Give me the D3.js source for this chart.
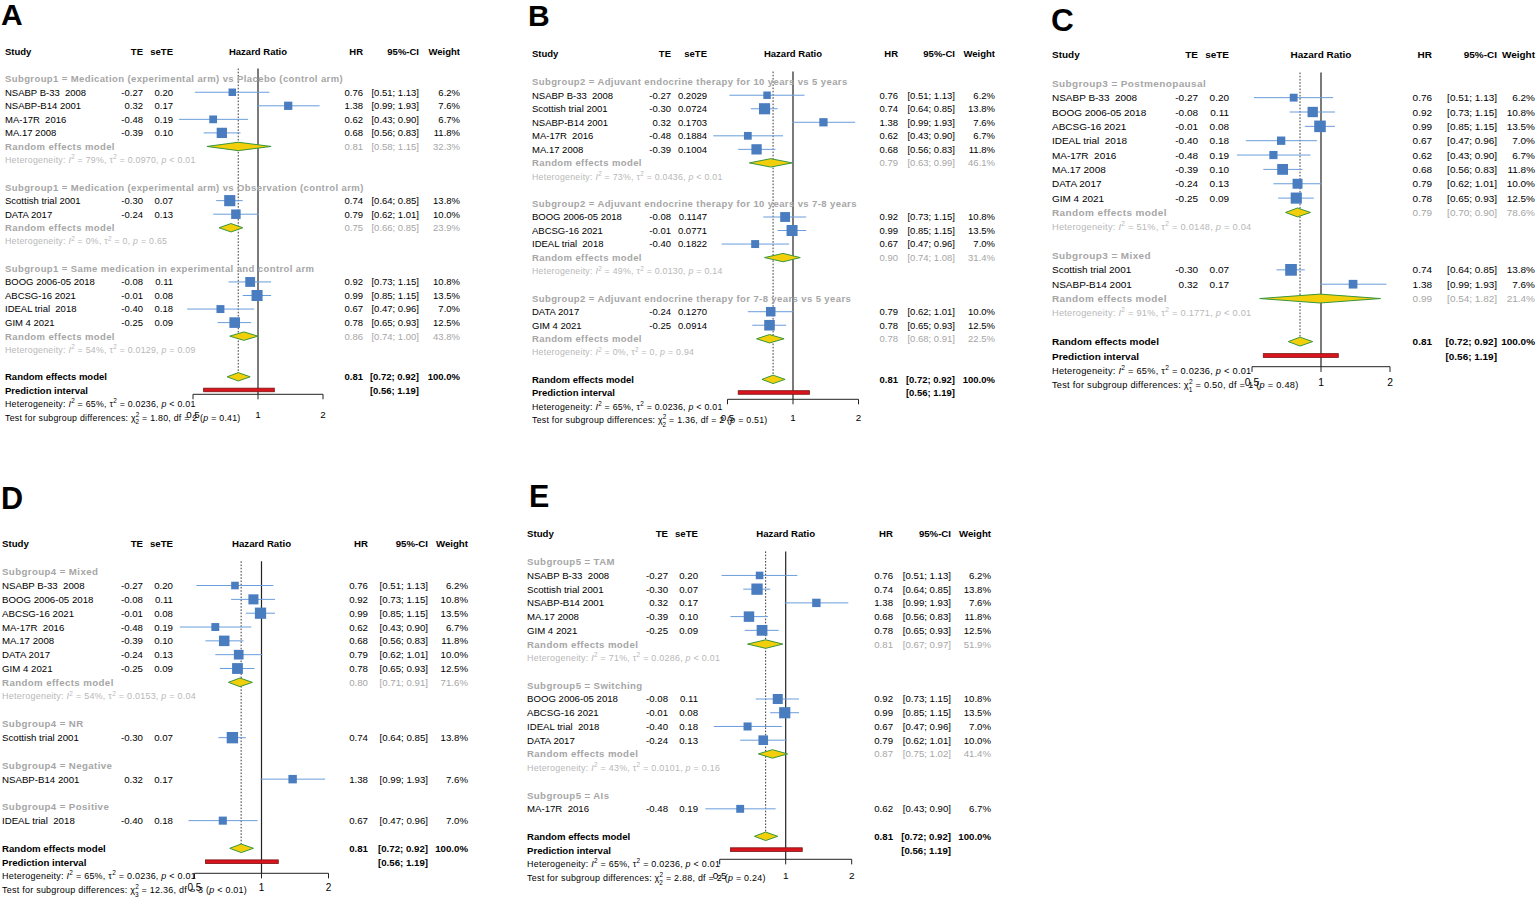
<!doctype html>
<html>
<head>
  <meta charset="utf-8">
  <title>Forest plots by subgroup</title>
  <script src="https://d3js.org/d3.v7.min.js"></script>
  <style>
    body { margin: 0; background: #fff; }
    text { font-family: "Liberation Sans", Arial, Helvetica, sans-serif; white-space: pre; }
  </style>
</head>
<body>
<div id="chart"></div>
<script>
// ---- study level data (same ten trials in every panel) ----
var studyNames = ["NSABP B-33  2008", "NSABP-B14 2001", "MA-17R  2016", "MA.17 2008", "Scottish trial 2001",
                  "DATA 2017", "BOOG 2006-05 2018", "ABCSG-16 2021", "IDEAL trial  2018", "GIM 4 2021"];
var studyTE = [-0.27, 0.32, -0.48, -0.39, -0.30, -0.24, -0.08, -0.01, -0.40, -0.25];
var studySE = ["0.20", "0.17", "0.19", "0.10", "0.07", "0.13", "0.11", "0.08", "0.18", "0.09"];
var studySE4 = ["0.2029", "0.1703", "0.1884", "0.1004", "0.0724", "0.1270", "0.1147", "0.0771", "0.1822", "0.0914"];
var studyHR = [0.76, 1.38, 0.62, 0.68, 0.74, 0.79, 0.92, 0.99, 0.67, 0.78];
var studyLo = [0.51, 0.99, 0.43, 0.56, 0.64, 0.62, 0.73, 0.85, 0.47, 0.65];
var studyHi = [1.13, 1.93, 0.90, 0.83, 0.85, 1.01, 1.15, 1.15, 0.96, 0.93];
var studyW  = [6.2, 7.6, 6.7, 11.8, 13.8, 10.0, 10.8, 13.5, 7.0, 12.5];

// ---- subgroup data, one entry per panel ----
var panelSE = [studySE, studySE4, studySE, studySE, studySE];

var subgroupNames = [
  ["Subgroup1 = Medication (experimental arm) vs Placebo (control arm)",
   "Subgroup1 = Medication (experimental arm) vs Observation (control arm)",
   "Subgroup1 = Same medication in experimental and control arm"],
  ["Subgroup2 = Adjuvant endocrine therapy for 10 years vs 5 years",
   "Subgroup2 = Adjuvant endocrine therapy for 10 years vs 7-8 years",
   "Subgroup2 = Adjuvant endocrine therapy for 7-8 years vs 5 years"],
  ["Subgroup3 = Postmenopausal", "Subgroup3 = Mixed"],
  ["Subgroup4 = Mixed", "Subgroup4 = NR", "Subgroup4 = Negative", "Subgroup4 = Positive"],
  ["Subgroup5 = TAM", "Subgroup5 = Switching", "Subgroup5 = AIs"]
];
var subgroupStudies = [
  [[0, 1, 2, 3], [4, 5], [6, 7, 8, 9]],
  [[0, 4, 1, 2, 3], [6, 7, 8], [5, 9]],
  [[0, 6, 7, 8, 2, 3, 5, 9], [4, 1]],
  [[0, 6, 7, 2, 3, 5, 9], [4], [1], [8]],
  [[0, 4, 1, 3, 9], [6, 7, 8, 5], [2]]
];
var subgroupHR = [[0.81, 0.75, 0.86], [0.79, 0.90, 0.78], [0.79, 0.99], [0.80, null, null, null], [0.81, 0.87, null]];
var subgroupLo = [[0.58, 0.66, 0.74], [0.63, 0.74, 0.68], [0.70, 0.54], [0.71, null, null, null], [0.67, 0.75, null]];
var subgroupHi = [[1.15, 0.85, 1.00], [0.99, 1.08, 0.91], [0.90, 1.82], [0.91, null, null, null], [0.97, 1.02, null]];
var subgroupW  = [[32.3, 23.9, 43.8], [46.1, 31.4, 22.5], [78.6, 21.4], [71.6, null, null, null], [51.9, 41.4, null]];
var subgroupI2   = [["79%", "0%", "54%"], ["73%", "49%", "0%"], ["51%", "91%"], ["54%"], ["71%", "43%"]];
var subgroupTau2 = [["0.0970", "0", "0.0129"], ["0.0436", "0.0130", "0"], ["0.0148", "0.1771"], ["0.0153"], ["0.0286", "0.0101"]];
var subgroupP    = [["< 0.01", "= 0.65", "= 0.09"], ["< 0.01", "= 0.14", "= 0.94"], ["= 0.04", "< 0.01"], ["= 0.04"], ["< 0.01", "= 0.16"]];

var testChi = ["1.80", "1.36", "0.50", "12.36", "2.88"];
var testDf  = ["2", "2", "1", "3", "2"];
var testP   = ["= 0.41", "= 0.51", "= 0.48", "< 0.01", "= 0.24"];

// overall random effects model (identical in all panels)
var overallHR = 0.81, overallLo = 0.72, overallHi = 0.92, predLo = 0.56, predHi = 1.19;
var overallI2 = "65%", overallTau2 = "0.0236", overallP = "< 0.01";
var axisTicks = [0.5, 1, 2];
var panelLetters = ["A", "B", "C", "D", "E"];

// ---- layout of each panel (pixels) ----
var layout = [
  {lx: 1,    ly: 25,  sx: 5,    te: 143,  se: 173,  one: 258,   px2: 65,   hr: 363,  ci: 419,  w: 460,  head: 52,    row0: 78.7,  dy: 13.55, axisY: 394.3, fs: 1.0},
  {lx: 528,  ly: 26,  sx: 532,  te: 671,  se: 707,  one: 793,   px2: 65.5, hr: 898,  ci: 955,  w: 995,  head: 54,    row0: 81.7,  dy: 13.53, axisY: 399.3, fs: 1.0},
  {lx: 1051, ly: 31,  sx: 1052, te: 1198, se: 1229, one: 1321,  px2: 69,   hr: 1432, ci: 1497, w: 1535, head: 54.3,  row0: 83.3,  dy: 14.35, axisY: 366.7, fs: 1.05},
  {lx: 1,    ly: 509, sx: 2,    te: 143,  se: 173,  one: 261.5, px2: 67,   hr: 368,  ci: 428,  w: 468,  head: 544,   row0: 571.7, dy: 13.83, axisY: 873.3, fs: 1.02},
  {lx: 529,  ly: 507, sx: 527,  te: 668,  se: 698,  one: 785.7, px2: 66,   hr: 893,  ci: 951,  w: 991,  head: 534,   row0: 561.7, dy: 13.73, axisY: 859.3, fs: 1.015}
];

var grey = "#a6a6a6", hetGrey = "#b8b8b8";
var sqFill = "#4a7dc0", ciCol = "#6a9ddb";
var diaFill = "#f3cf0b", diaLine = "#3a963a";

var svg = d3.select("#chart").append("svg")
    .attr("width", 1536)
    .attr("height", 898);

function put(g, x, y, str, size, opts) {
  opts = opts || {};
  return g.append("text")
      .attr("x", x)
      .attr("y", y + 0.36 * size)
      .attr("font-size", size)
      .attr("text-anchor", opts.anchor || "start")
      .attr("font-weight", opts.bold ? "bold" : "normal")
      .attr("letter-spacing", opts.ls || 0)
      .attr("fill", opts.fill || "#000")
      .text(str);
}

function hetText(g, x, y, size, color, i2, tau2, pv) {
  var t = g.append("text").attr("x", x).attr("y", y + 0.36 * size)
      .attr("font-size", size).attr("fill", color).attr("letter-spacing", 0.25);
  t.append("tspan").text("Heterogeneity: ");
  t.append("tspan").attr("font-style", "italic").text("I");
  t.append("tspan").attr("font-size", size * 0.72).attr("dy", -size * 0.42).text("2");
  t.append("tspan").attr("dy", size * 0.42).text(" = " + i2 + ", \u03c4");
  t.append("tspan").attr("font-size", size * 0.72).attr("dy", -size * 0.42).text("2");
  t.append("tspan").attr("dy", size * 0.42).text(" = " + tau2 + ", ");
  t.append("tspan").attr("font-style", "italic").text("p");
  t.append("tspan").text(" " + pv);
}

function testText(g, x, y, size, chi, df, pv) {
  var t = g.append("text").attr("x", x).attr("y", y + 0.36 * size)
      .attr("font-size", size).attr("fill", "#000").attr("letter-spacing", 0.25);
  t.append("tspan").text("Test for subgroup differences: \u03c7");
  t.append("tspan").attr("font-size", size * 0.72).attr("dy", -size * 0.42).text("2");
  t.append("tspan").attr("font-size", size * 0.72).attr("dx", -size * 0.45).attr("dy", size * 0.85).text(df);
  t.append("tspan").attr("dy", -size * 0.43).text(" = " + chi + ", df = " + df + " (");
  t.append("tspan").attr("font-style", "italic").text("p");
  t.append("tspan").text(" " + pv + ")");
}

function ciLabel(lo, hi) {
  return "[" + lo.toFixed(2) + "; " + hi.toFixed(2) + "]";
}

layout.forEach(function(L, p) {
  var g = svg.append("g");
  var f = 9.5 * L.fs, fh = 8.8 * L.fs;

  var x = d3.scaleLog().domain([0.5, 2]).range([L.one - L.px2, L.one + L.px2]);
  var y = d3.scaleLinear().domain([0, 1]).range([L.row0, L.row0 + L.dy]);

  // build the list of rows
  var rows = [];
  subgroupNames[p].forEach(function(name, k) {
    rows.push({type: "head", k: k});
    subgroupStudies[p][k].forEach(function(s) { rows.push({type: "study", s: s}); });
    if (subgroupHR[p][k] != null) {
      rows.push({type: "pooled", k: k});
      rows.push({type: "het", k: k});
    }
    rows.push({type: "blank"});
  });
  rows.push({type: "overall"});
  rows.push({type: "pred"});
  var overallRow = rows.length - 2;
  var testY = y(rows.length + 1);

  // panel letter
  g.append("text").attr("x", L.lx).attr("y", L.ly)
      .attr("font-size", 30 * L.fs).attr("font-weight", "bold").text(panelLetters[p]);

  // column headers
  put(g, L.sx, L.head, "Study", f, {bold: true});
  put(g, L.te, L.head, "TE", f, {bold: true, anchor: "end"});
  put(g, L.se, L.head, "seTE", f, {bold: true, anchor: "end"});
  put(g, L.one, L.head, "Hazard Ratio", f, {bold: true, anchor: "middle"});
  put(g, L.hr, L.head, "HR", f, {bold: true, anchor: "end"});
  put(g, L.ci, L.head, "95%-CI", f, {bold: true, anchor: "end"});
  put(g, L.w, L.head, "Weight", f, {bold: true, anchor: "end"});

  // reference lines
  var top = L.row0 - 0.75 * L.dy;
  g.append("line").attr("x1", x(1)).attr("x2", x(1)).attr("y1", top).attr("y2", L.axisY)
      .attr("stroke", "#222").attr("stroke-width", 1.2);
  g.append("line").attr("x1", x(overallHR)).attr("x2", x(overallHR)).attr("y1", top).attr("y2", y(overallRow))
      .attr("stroke", "#222").attr("stroke-width", 0.9).attr("stroke-dasharray", "1.6,1.6");

  // x axis
  var ax = g.append("g");
  ax.append("line").attr("x1", x(0.5)).attr("x2", x(2)).attr("y1", L.axisY).attr("y2", L.axisY)
      .attr("stroke", "#222").attr("stroke-width", 1);
  axisTicks.forEach(function(t) {
    ax.append("line").attr("x1", x(t)).attr("x2", x(t)).attr("y1", L.axisY).attr("y2", L.axisY + 5 * L.fs)
        .attr("stroke", "#222").attr("stroke-width", 1);
    put(ax, x(t), testY - 2.5, String(t), 9.8 * L.fs, {anchor: "middle"});
  });

  rows.forEach(function(r, i) {
    var yy = y(i);
    if (r.type === "head") {
      put(g, L.sx, yy, subgroupNames[p][r.k], f, {bold: true, fill: grey, ls: 0.4});
    } else if (r.type === "study") {
      var s = r.s;
      put(g, L.sx, yy, studyNames[s], f);
      put(g, L.te, yy, studyTE[s].toFixed(2), f, {anchor: "end"});
      put(g, L.se, yy, panelSE[p][s], f, {anchor: "end"});
      g.append("line").attr("x1", x(studyLo[s])).attr("x2", x(studyHi[s]))
          .attr("y1", yy).attr("y2", yy).attr("stroke", ciCol).attr("stroke-width", 1);
      var side = 3.0 * Math.sqrt(studyW[s]) * L.fs;
      g.append("rect").attr("x", x(studyHR[s]) - side / 2).attr("y", yy - side / 2)
          .attr("width", side).attr("height", side).attr("fill", sqFill);
      put(g, L.hr, yy, studyHR[s].toFixed(2), f, {anchor: "end"});
      put(g, L.ci, yy, ciLabel(studyLo[s], studyHi[s]), f, {anchor: "end"});
      put(g, L.w, yy, studyW[s].toFixed(1) + "%", f, {anchor: "end"});
    } else if (r.type === "pooled") {
      var k = r.k, h = 0.31 * L.dy;
      put(g, L.sx, yy, "Random effects model", f, {bold: true, fill: grey, ls: 0.4});
      g.append("path")
          .attr("d", "M" + x(subgroupLo[p][k]) + "," + yy + "L" + x(subgroupHR[p][k]) + "," + (yy - h) +
                     "L" + x(subgroupHi[p][k]) + "," + yy + "L" + x(subgroupHR[p][k]) + "," + (yy + h) + "Z")
          .attr("fill", diaFill).attr("stroke", diaLine).attr("stroke-width", 1);
      put(g, L.hr, yy, subgroupHR[p][k].toFixed(2), f, {anchor: "end", fill: grey});
      put(g, L.ci, yy, ciLabel(subgroupLo[p][k], subgroupHi[p][k]), f, {anchor: "end", fill: grey});
      put(g, L.w, yy, subgroupW[p][k].toFixed(1) + "%", f, {anchor: "end", fill: grey});
    } else if (r.type === "het") {
      hetText(g, L.sx, yy, fh, hetGrey, subgroupI2[p][r.k], subgroupTau2[p][r.k], subgroupP[p][r.k]);
    } else if (r.type === "overall") {
      var ho = 0.31 * L.dy;
      put(g, L.sx, yy, "Random effects model", f, {bold: true});
      g.append("path")
          .attr("d", "M" + x(overallLo) + "," + yy + "L" + x(overallHR) + "," + (yy - ho) +
                     "L" + x(overallHi) + "," + yy + "L" + x(overallHR) + "," + (yy + ho) + "Z")
          .attr("fill", diaFill).attr("stroke", diaLine).attr("stroke-width", 1);
      put(g, L.hr, yy, overallHR.toFixed(2), f, {anchor: "end", bold: true});
      put(g, L.ci, yy, ciLabel(overallLo, overallHi), f, {anchor: "end", bold: true});
      put(g, L.w, yy, "100.0%", f, {anchor: "end", bold: true});
    } else if (r.type === "pred") {
      put(g, L.sx, yy, "Prediction interval", f, {bold: true});
      g.append("rect").attr("x", x(predLo)).attr("y", yy - 2.2 * L.fs)
          .attr("width", x(predHi) - x(predLo)).attr("height", 3.6 * L.fs)
          .attr("fill", "#d9141c").attr("stroke", "#7a1414").attr("stroke-width", 0.8);
      put(g, L.ci, yy, ciLabel(predLo, predHi), f, {anchor: "end", bold: true});
    }
  });

  hetText(g, L.sx, y(rows.length), fh, "#000", overallI2, overallTau2, overallP);
  testText(g, L.sx, testY, fh, testChi[p], testDf[p], testP[p]);
});
</script>
</body>
</html>
